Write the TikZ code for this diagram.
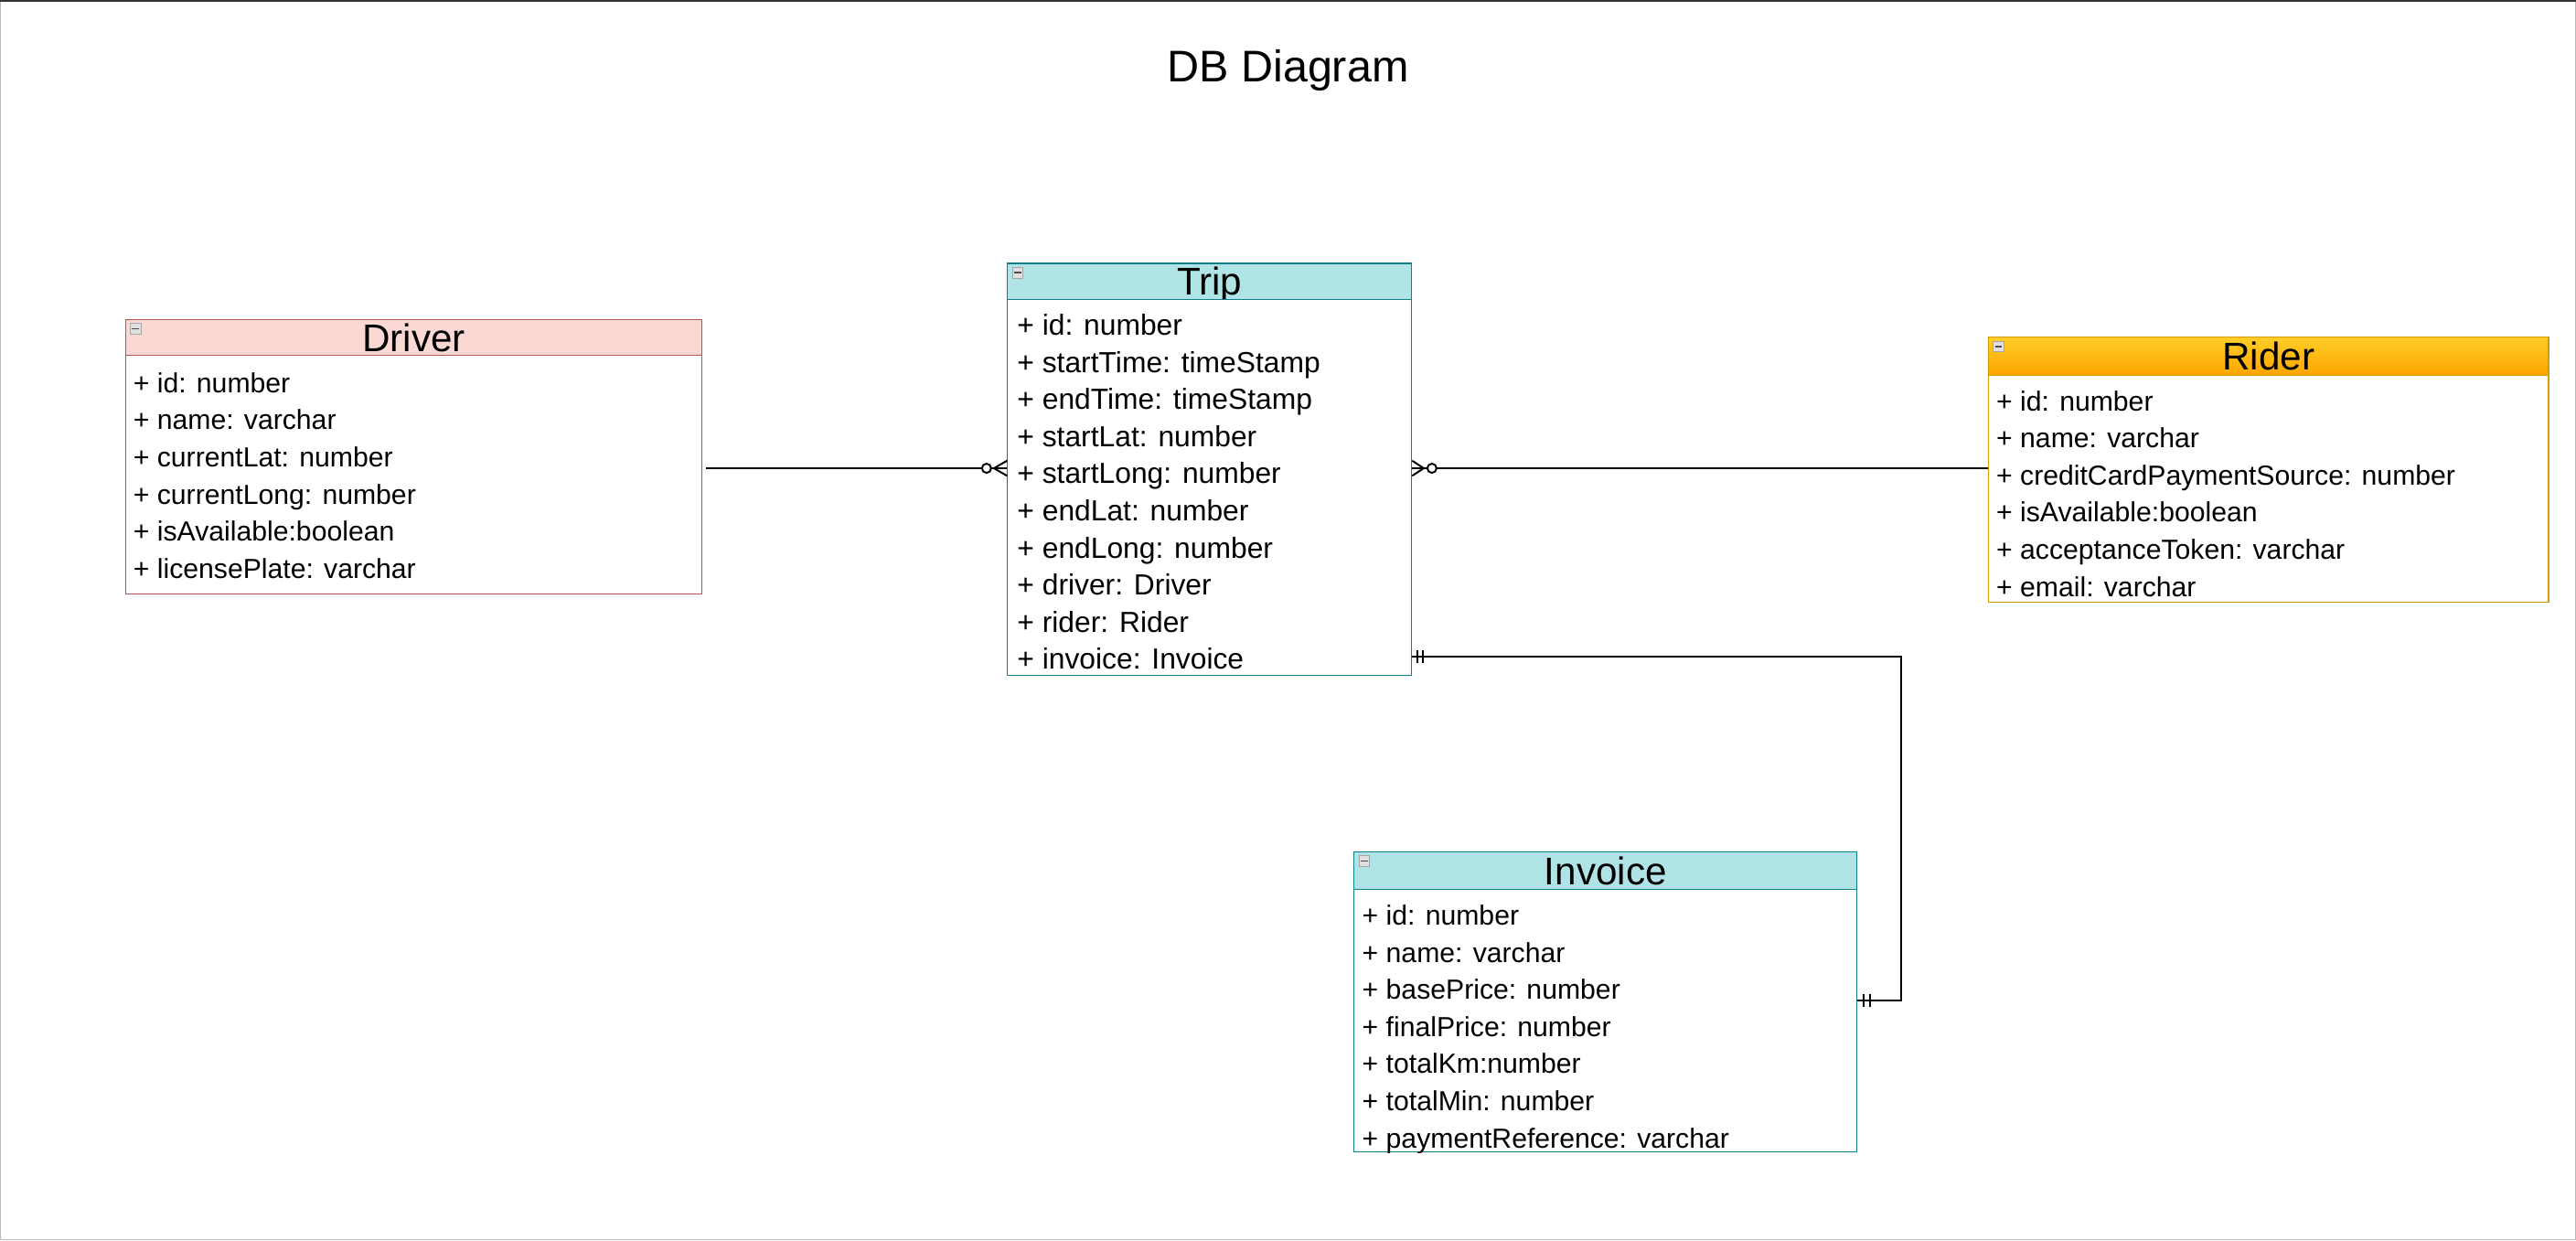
\documentclass[tikz,border=0pt]{standalone}
\usepackage{fontspec}
\setmainfont{Liberation Sans}
\usepackage{xcolor}
\usetikzlibrary{calc}
\definecolor{drvfill}{HTML}{FAD9D5}
\definecolor{drvline}{HTML}{B85450}
\definecolor{tealfill}{HTML}{B0E3E6}
\definecolor{tealline}{HTML}{0E8088}
\definecolor{ridtop}{HTML}{FFCD28}
\definecolor{ridbot}{HTML}{FFA500}
\definecolor{ridline}{HTML}{D79B00}

\begin{document}
\begin{tikzpicture}[x=1pt,y=-1pt]
    \tikzstyle{head}=[draw,line width=0.6pt,inner sep=0pt,anchor=north west,minimum height=22pt,text height=16.9pt,text depth=0pt,font=\fontsize{23.5}{26}\selectfont]
    \tikzstyle{body}=[draw,line width=0.6pt,fill=white,inner sep=0pt,anchor=north west]
    \tikzstyle{field}=[anchor=base west,inner sep=0pt,font=\fontsize{16.8}{20}\selectfont]
    \tikzstyle{wide}=[font=\fontsize{17.7}{20}\selectfont]
    \tikzstyle{icon}=[draw=gray!70,fill=gray!25,line width=0.3pt,minimum size=6.5pt,inner sep=0pt,anchor=north west]
    \tikzstyle{minus}=[draw=black!70,line width=0.7pt]
    \tikzstyle{rel}=[draw=black,line width=1.1pt]

    \def\dy{22.6}

    \useasboundingbox (0,0) rectangle (1568,755);
    \draw[gray!55,line width=0.6pt] (0.3,0.3) rectangle (1567.7,754.7);
    \draw[black!80,line width=1.2pt] (0,0.6) -- (1568,0.6);

    \node[font=\fontsize{27}{30}\selectfont] (ttl) at (784,43) {DB Diagram};

    % Driver
    \def\dl{76}
    \def\dby{239}
    \node[head,fill=drvfill,draw=drvline,minimum width=351pt] (dhead) at (\dl,194) {Driver};
    \node[body,draw=drvline,minimum width=351pt,minimum height=145pt] (dbody) at (\dl,216) {};
    \node[icon] (dicon) at (\dl+3,196.5) {};
    \draw[minus] ($(dicon.west)+(1.3,0)$) -- ($(dicon.east)+(-1.3,0)$);
    \node[field] (d1) at (\dl+5,\dby+0*\dy) {+ id: number};
    \node[field] (d2) at (\dl+5,\dby+1*\dy) {+ name: varchar};
    \node[field] (d3) at (\dl+5,\dby+2*\dy) {+ currentLat: number};
    \node[field] (d4) at (\dl+5,\dby+3*\dy) {+ currentLong: number};
    \node[field] (d5) at (\dl+5,\dby+4*\dy) {+ isAvailable:boolean};
    \node[field] (d6) at (\dl+5,\dby+5*\dy) {+ licensePlate: varchar};

    % Trip
    \def\tl{613}
    \def\tby{204}
    \node[head,fill=tealfill,draw=tealline,minimum width=246pt] (thead) at (\tl,160) {Trip};
    \node[body,draw=tealline,minimum width=246pt,minimum height=229pt] (tbody) at (\tl,182) {};
    \node[icon] (ticon) at (\tl+3,162.5) {};
    \draw[minus] ($(ticon.west)+(1.3,0)$) -- ($(ticon.east)+(-1.3,0)$);
    \begin{scope}
    \clip (tbody.north west) rectangle (tbody.south east);
    \node[field,wide] (t1) at (\tl+6,\tby+0*\dy) {+ id: number};
    \node[field,wide] (t2) at (\tl+6,\tby+1*\dy) {+ startTime: timeStamp};
    \node[field,wide] (t3) at (\tl+6,\tby+2*\dy) {+ endTime: timeStamp};
    \node[field,wide] (t4) at (\tl+6,\tby+3*\dy) {+ startLat: number};
    \node[field,wide] (t5) at (\tl+6,\tby+4*\dy) {+ startLong: number};
    \node[field,wide] (t6) at (\tl+6,\tby+5*\dy) {+ endLat: number};
    \node[field,wide] (t7) at (\tl+6,\tby+6*\dy) {+ endLong: number};
    \node[field,wide] (t8) at (\tl+6,\tby+7*\dy) {+ driver: Driver};
    \node[field,wide] (t9) at (\tl+6,\tby+8*\dy) {+ rider: Rider};
    \node[field,wide] (t10) at (\tl+6,\tby+9*\dy) {+ invoice: Invoice};
    \end{scope}

    % Rider
    \def\rl{1210}
    \def\rby{250}
    \node[head,top color=ridtop,bottom color=ridbot,draw=ridline,minimum width=341pt,minimum height=23pt] (rhead) at (\rl,205) {Rider};
    \node[body,draw=ridline,minimum width=341pt,minimum height=138pt] (rbody) at (\rl,228) {};
    \node[icon] (ricon) at (\rl+3,207.5) {};
    \draw[minus] ($(ricon.west)+(1.3,0)$) -- ($(ricon.east)+(-1.3,0)$);
    \begin{scope}
    \clip (rbody.north west) rectangle (rbody.south east);
    \node[field] (r1) at (\rl+5,\rby+0*\dy) {+ id: number};
    \node[field] (r2) at (\rl+5,\rby+1*\dy) {+ name: varchar};
    \node[field] (r3) at (\rl+5,\rby+2*\dy) {+ creditCardPaymentSource: number};
    \node[field] (r4) at (\rl+5,\rby+3*\dy) {+ isAvailable:boolean};
    \node[field] (r5) at (\rl+5,\rby+4*\dy) {+ acceptanceToken: varchar};
    \node[field] (r6) at (\rl+5,\rby+5*\dy) {+ email: varchar};
    \end{scope}

    % Invoice
    \def\il{824}
    \def\iby{563}
    \node[head,fill=tealfill,draw=tealline,minimum width=306pt,minimum height=23pt] (ihead) at (\il,518) {Invoice};
    \node[body,draw=tealline,minimum width=306pt,minimum height=160pt] (ibody) at (\il,541) {};
    \node[icon] (iicon) at (\il+3,520.5) {};
    \draw[minus] ($(iicon.west)+(1.3,0)$) -- ($(iicon.east)+(-1.3,0)$);
    \begin{scope}
    \clip (ibody.north west) rectangle (ibody.south east);
    \node[field] (i1) at (\il+5,\iby+0*\dy) {+ id: number};
    \node[field] (i2) at (\il+5,\iby+1*\dy) {+ name: varchar};
    \node[field] (i3) at (\il+5,\iby+2*\dy) {+ basePrice: number};
    \node[field] (i4) at (\il+5,\iby+3*\dy) {+ finalPrice: number};
    \node[field] (i5) at (\il+5,\iby+4*\dy) {+ totalKm:number};
    \node[field] (i6) at (\il+5,\iby+5*\dy) {+ totalMin: number};
    \node[field] (i7) at (\il+5,\iby+6*\dy) {+ paymentReference: varchar};
    \end{scope}

    % relations
    \coordinate (lvl1) at (0,285);
    \coordinate (lvl2) at (0,399.5);
    \coordinate (lvl3) at (0,609);
    \coordinate (bend) at (1157,0);

    \coordinate (p1) at (dbody.east |- lvl1);
    \coordinate (p2) at (tbody.west |- lvl1);
    \draw[rel] ($(p1)+(2,0)$) -- ($(p2)+(-15.3,0)$);
    \draw[rel] ($(p2)+(-12.5,0)$) circle (2.8);
    \draw[rel] ($(p2)+(-9.7,0)$) -- (p2);
    \draw[rel] ($(p2)+(0,-4.6)$) -- ($(p2)+(-8,0)$) -- ($(p2)+(0,4.6)$);

    \coordinate (p3) at (tbody.east |- lvl1);
    \coordinate (p4) at (rbody.west |- lvl1);
    \draw[rel] (p3) -- ($(p3)+(9.2,0)$);
    \draw[rel] ($(p3)+(0,-4.6)$) -- ($(p3)+(7,0)$) -- ($(p3)+(0,4.6)$);
    \draw[rel] ($(p3)+(12,0)$) circle (2.8);
    \draw[rel] ($(p3)+(14.8,0)$) -- (p4);

    \coordinate (p5) at (tbody.east |- lvl2);
    \coordinate (p6) at (ibody.east |- lvl3);
    \draw[rel] (p5) -- (p5 -| bend) -- (p6 -| bend) -- (p6);
    \draw[rel] ($(p5)+(3,-4)$) -- ($(p5)+(3,4)$);
    \draw[rel] ($(p5)+(6.5,-4)$) -- ($(p5)+(6.5,4)$);
    \draw[rel] ($(p6)+(4,-4)$) -- ($(p6)+(4,4)$);
    \draw[rel] ($(p6)+(7.5,-4)$) -- ($(p6)+(7.5,4)$);

\end{tikzpicture}
\end{document}
